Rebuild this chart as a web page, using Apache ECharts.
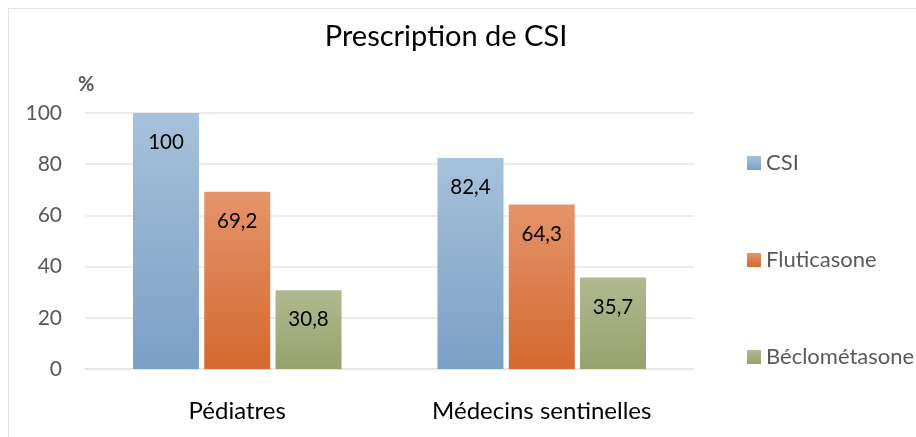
<!DOCTYPE html>
<html>
<head>
<meta charset="utf-8">
<script src="https://cdn.jsdelivr.net/npm/echarts@6/dist/echarts.min.js"></script>
<style>
  html, body { margin: 0; padding: 0; background: #fff; }
  #wrap { position: relative; width: 916px; height: 437px; overflow: hidden; }
  #frame { position: absolute; left: 8px; top: 8px; width: 940px; height: 460px; border: 1px solid #e6e1dd; box-sizing: border-box; }
  #chart { position: absolute; left: 0; top: 0; width: 916px; height: 437px; }
</style>
</head>
<body>
<div id="wrap">
  <div id="frame"></div>
  <div id="chart"></div>
</div>
<script>
// données
var categories = ['Pédiatres', 'Médecins sentinelles'];
var csi = [100, 82.4];
var fluticasone = [69.2, 64.3];
var beclometasone = [30.8, 35.7];
var yTicks = [0, 20, 40, 60, 80, 100];

var FONT = 'Lato, "Open Sans", sans-serif';

function grad(top, bottom) {
  return new echarts.graphic.LinearGradient(0, 0, 0, 1, [
    { offset: 0, color: top },
    { offset: 1, color: bottom }
  ]);
}

function label() {
  return {
    show: true,
    position: 'insideTop',
    distance: 19,
    color: '#000',
    fontFamily: FONT,
    fontSize: 20.5,
    formatter: function (p) {
      return String(p.value).replace('.', ',');
    }
  };
}

var myChart = echarts.init(document.getElementById('chart'));
myChart.setOption({
  animation: false,
  title: {
    text: 'Prescription de CSI',
    left: 441,
    top: 17,
    textAlign: 'center',
    textStyle: { color: '#000', fontFamily: FONT, fontSize: 29, fontWeight: 'normal' }
  },
  legend: {
    orient: 'vertical',
    left: 742,
    top: 147,
    itemWidth: 14,
    itemHeight: 14,
    itemGap: 75,
    icon: 'rect',
    textStyle: { color: '#595959', fontFamily: FONT, fontSize: 22, lineHeight: 20 },
    data: ['CSI', 'Fluticasone', 'Béclométasone']
  },
  grid: { left: 85, right: 222, top: 113, bottom: 68 },
  graphic: [{
    type: 'text',
    left: 78,
    top: 75,
    style: { text: '%', fill: '#595959', font: 'bold 20px ' + FONT }
  }],
  xAxis: {
    type: 'category',
    data: categories,
    axisTick: { show: false },
    axisLine: { lineStyle: { color: '#e8e3df', width: 1.5 } },
    axisLabel: { color: '#000', fontFamily: FONT, fontSize: 24, margin: 30 }
  },
  yAxis: {
    type: 'value',
    min: yTicks[0],
    max: yTicks[yTicks.length - 1],
    interval: 20,
    axisLine: { show: false },
    axisTick: { show: false },
    axisLabel: { color: '#595959', fontFamily: FONT, fontSize: 21, margin: 23 },
    splitLine: { lineStyle: { color: '#e8e3df', width: 1.5 } }
  },
  series: [
    {
      name: 'CSI', type: 'bar', data: csi,
      barWidth: 66, barGap: '8%',
      itemStyle: { color: grad('#a6c1db', '#7ba0c5') },
      label: label()
    },
    {
      name: 'Fluticasone', type: 'bar', data: fluticasone,
      barWidth: 66, barGap: '8%',
      itemStyle: { color: grad('#e5946a', '#d3692e') },
      label: label()
    },
    {
      name: 'Béclométasone', type: 'bar', data: beclometasone,
      barWidth: 66, barGap: '8%',
      itemStyle: { color: grad('#b0b98f', '#96a26c') },
      label: label()
    }
  ]
});
</script>
</body>
</html>
